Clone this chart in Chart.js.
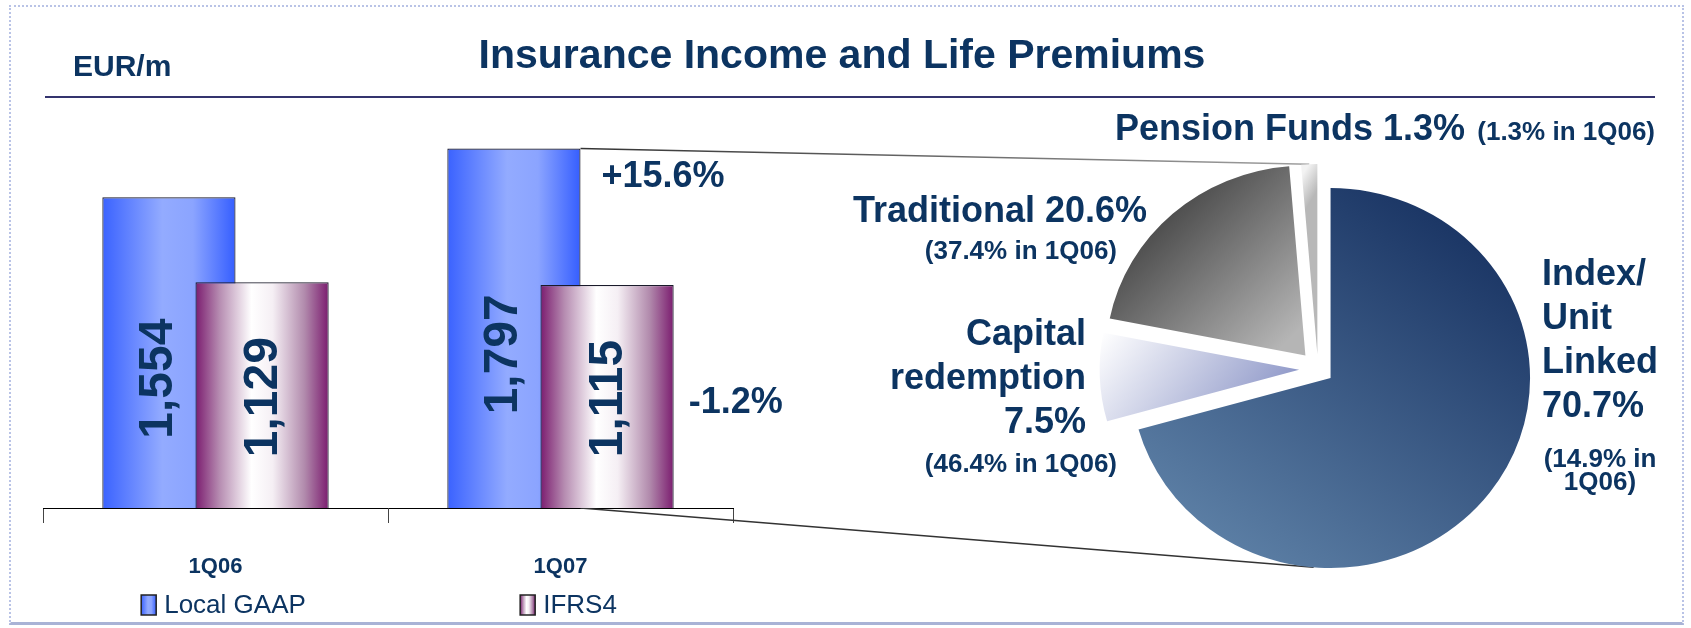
<!DOCTYPE html>
<html>
<head>
<meta charset="utf-8">
<title>Insurance Income and Life Premiums</title>
<script src="https://cdn.jsdelivr.net/npm/chart.js"></script>
<style>
  html, body { margin: 0; padding: 0; background: #fff; }
  #slide { position: relative; width: 1691px; height: 628px; overflow: hidden; }
  #slide .frame {
    position: absolute; left: 9px; top: 5px; width: 1671px; height: 615px;
    border: 2px dotted #b9c3e6; border-bottom: 3px solid #a9b3d6;
  }
  #slide canvas { position: absolute; left: 0; top: 0; }
</style>
</head>
<body>
<div id="slide">
  <div class="frame"></div>
  <canvas id="barChart" width="1691" height="628"></canvas>
  <canvas id="pieChart" width="1691" height="628"></canvas>
</div>
<script>
// Data
const quarters = ['1Q06', '1Q07'];
const seriesNames = ['Local GAAP', 'IFRS4'];
const localGaap = [1554, 1797];
const ifrs4 = [1129, 1115];

const lineNames = ['Index/Unit Linked', 'Capital redemption', 'Traditional', 'Pension Funds'];
const lineShares = [70.7, 7.5, 20.6, 1.3];       // 1Q07
const lineSharesPrev = [14.9, 46.4, 37.4, 1.3];  // 1Q06

// Styles
const FONT = "'Liberation Sans', Arial, sans-serif";
const NAVY = '#0c3461';
const PIE_RADIUS = 190;
const PIE_STRETCH = 1.05;   // pie is a little wider than tall

// horizontal "cylinder" shading of the bars
const barStops = [
  [[0, '#3a62ff'], [0.45, '#93abff'], [0.68, '#8ba4ff'], [1, '#355eff']],
  [[0, '#7b1c6f'], [0.18, '#b68cb1'], [0.42, '#ffffff'], [0.58, '#f5eff4'], [0.82, '#b18aac'], [1, '#7b1c6f']]
];

// slice gradients, coordinates in radius units from the pie centre
const sliceFills = [
  { from: [0.65, -0.75], to: [-0.55, 0.9], stops: [[0, '#1c3766'], [1, '#5c7fa5']] },
  { from: [-1, -0.3], to: [-0.2, 0.3], stops: [[0, '#ffffff'], [1, '#8690c4']] },
  { from: [-0.8, -0.8], to: [-0.15, -0.15], stops: [[0, '#4b4b4b'], [1, '#b5b5b5']] },
  { from: [-0.09, -1], to: [0, -0.95], stops: [[0, '#f3f3f3'], [1, '#b8b8b8']] }
];
const sliceExplode = [15, 18, 18, 15];

// where the pie labels go
const pieLabelPos = [
  { x: 1542, y: 285, align: 'left', breakName: true, shareOwnLine: true, prev: { x: 1600, y: 467, align: 'center', wrap: true } },
  { x: 1086, y: 345, align: 'right', breakName: true, shareOwnLine: true, prev: { x: 1117, y: 472, align: 'right' } },
  { x: 1147, y: 222, align: 'right', prev: { x: 1117, y: 259, align: 'right' } },
  { x: 1465, y: 140, align: 'right', prev: { x: 1655, y: 140, align: 'right' } }
];

function pct(v) { return v.toFixed(1) + '%'; }
function stretchX(x, cx) { return cx + (x - cx) * PIE_STRETCH; }

function sliceFill(c) {
  const area = c.chart.chartArea;
  const f = sliceFills[c.dataIndex];
  if (!area) return f.stops[0][1];
  const cx = (area.left + area.right) / 2;
  const cy = (area.top + area.bottom) / 2;
  const g = c.chart.ctx.createLinearGradient(
    cx + f.from[0] * PIE_RADIUS, cy + f.from[1] * PIE_RADIUS,
    cx + f.to[0] * PIE_RADIUS, cy + f.to[1] * PIE_RADIUS);
  f.stops.forEach(([o, col]) => g.addColorStop(o, col));
  return g;
}

// ---------- Pie ----------
const pieExplode = {
  id: 'pieExplode',
  afterDatasetsUpdate(chart) {
    chart.getDatasetMeta(0).data.forEach((arc, i) => {
      const mid = (arc.startAngle + arc.endAngle) / 2;
      arc.x += Math.cos(mid) * sliceExplode[i];
      arc.y += Math.sin(mid) * sliceExplode[i];
    });
  }
};

const pieStretch = {
  id: 'pieStretch',
  beforeDatasetsDraw(chart) {
    const a = chart.chartArea;
    const cx = (a.left + a.right) / 2;
    chart.ctx.save();
    chart.ctx.translate(cx, 0);
    chart.ctx.scale(PIE_STRETCH, 1);
    chart.ctx.translate(-cx, 0);
  },
  afterDatasetsDraw(chart) {
    chart.ctx.restore();
  }
};

const pieLabels = {
  id: 'pieLabels',
  afterDraw(chart) {
    const ctx = chart.ctx;
    ctx.save();
    ctx.fillStyle = NAVY;
    ctx.textBaseline = 'alphabetic';
    lineNames.forEach((name, i) => {
      const p = pieLabelPos[i];
      let lines;
      if (p.shareOwnLine) {
        const nameLines = p.breakName ? name.split(/(?<=\/)|\s+/) : [name];
        lines = [...nameLines, pct(lineShares[i])];
      } else {
        lines = [name + ' ' + pct(lineShares[i])];
      }
      ctx.font = 'bold 36px ' + FONT;
      ctx.textAlign = p.align;
      lines.forEach((t, k) => ctx.fillText(t, p.x, p.y + k * 44));

      const prevText = '(' + pct(lineSharesPrev[i]) + ' in ' + quarters[0] + ')';
      let prevLines = [prevText];
      if (p.prev.wrap) {
        const cut = prevText.lastIndexOf(' ');
        prevLines = [prevText.slice(0, cut), prevText.slice(cut + 1)];
      }
      ctx.font = 'bold 26px ' + FONT;
      ctx.textAlign = p.prev.align;
      prevLines.forEach((t, k) => ctx.fillText(t, p.prev.x, p.prev.y + k * 23));
    });
    ctx.restore();
  }
};

const pieChart = new Chart(document.getElementById('pieChart'), {
  type: 'pie',
  data: {
    labels: lineNames,
    datasets: [{
      data: lineShares,
      radius: PIE_RADIUS,
      backgroundColor: sliceFill,
      borderWidth: 0
    }]
  },
  options: {
    responsive: false,
    animation: false,
    events: [],
    layout: { padding: { left: 1018, right: 73, top: 119, bottom: 9 } },
    plugins: {
      legend: { display: false },
      tooltip: { enabled: false }
    }
  },
  plugins: [pieExplode, pieStretch, pieLabels]
});

// ---------- Bars ----------
function barGradient(ctx, bar, stops) {
  const g = ctx.createLinearGradient(bar.x - bar.width / 2, 0, bar.x + bar.width / 2, 0);
  stops.forEach(([o, col]) => g.addColorStop(o, col));
  return g;
}

// lines from the 1Q07 bar out to the pie
function drawConnectors(chart) {
  const ctx = chart.ctx;
  const bar = chart.getDatasetMeta(0).data[1];
  const area = pieChart.chartArea;
  const cx = (area.left + area.right) / 2;
  const arcs = pieChart.getDatasetMeta(0).data;
  const px = bar.x + bar.width / 2;

  const pen = arcs[arcs.length - 1];
  const pm = (pen.startAngle + pen.endAngle) / 2;
  const tx = stretchX(pen.x + Math.cos(pm) * pen.outerRadius, cx);
  const ty = pen.y + Math.sin(pm) * pen.outerRadius;

  // lower tangent to the big slice (worked out before the stretch)
  const big = arcs[0];
  const qx = cx + (px - cx) / PIE_STRETCH;
  const dx = qx - big.x, dy = bar.base - big.y;
  const ang = Math.atan2(dy, dx) - Math.acos(big.outerRadius / Math.hypot(dx, dy));
  const bx = stretchX(big.x + Math.cos(ang) * big.outerRadius, cx);
  const by = big.y + Math.sin(ang) * big.outerRadius;

  ctx.save();
  ctx.lineWidth = 1.5;
  const g = ctx.createLinearGradient(px, 0, tx, 0);
  g.addColorStop(0, '#333333');
  g.addColorStop(1, '#a0a0a0');
  ctx.strokeStyle = g;
  ctx.beginPath();
  ctx.moveTo(px, bar.y);
  ctx.lineTo(tx, ty);
  ctx.stroke();
  ctx.strokeStyle = '#333333';
  ctx.beginPath();
  ctx.moveTo(px, bar.base);
  ctx.lineTo(bx, by);
  ctx.stroke();
  ctx.restore();
}

const barPaint = {
  id: 'barPaint',
  beforeDatasetsDraw(chart) {
    const ctx = chart.ctx;
    drawConnectors(chart);
    // IFRS4 is painted over Local GAAP
    chart.data.datasets.forEach((ds, i) => {
      const meta = chart.getDatasetMeta(i);
      meta.data.forEach(bar => {
        bar.options = Object.assign({}, bar.options, { backgroundColor: barGradient(ctx, bar, barStops[i]) });
      });
      meta.controller.draw();
    });
    return false;
  }
};

const barText = {
  id: 'barText',
  afterDraw(chart) {
    const ctx = chart.ctx;
    const x = chart.scales.x;
    ctx.save();
    ctx.fillStyle = NAVY;

    // header
    ctx.font = 'bold 41px ' + FONT;
    ctx.textAlign = 'center';
    ctx.textBaseline = 'alphabetic';
    ctx.fillText('Insurance Income and Life Premiums', 842, 68);
    ctx.font = 'bold 30px ' + FONT;
    ctx.textAlign = 'left';
    ctx.fillText('EUR/m', 73, 76);
    ctx.strokeStyle = '#34346e';
    ctx.lineWidth = 2;
    ctx.beginPath();
    ctx.moveTo(45, 97);
    ctx.lineTo(1655, 97);
    ctx.stroke();

    // values written up the bars
    ctx.font = 'bold 48px ' + FONT;
    ctx.textAlign = 'center';
    ctx.textBaseline = 'middle';
    chart.data.datasets.forEach((ds, i) => {
      chart.getDatasetMeta(i).data.forEach((bar, j) => {
        const cxText = i === 0 ? bar.x - 10 : bar.x + 2;
        const cyText = (bar.y + bar.base) / 2 + (i === 0 ? 26 : 2);
        ctx.save();
        ctx.translate(cxText, cyText);
        ctx.rotate(-Math.PI / 2);
        ctx.fillText(ds.data[j].toLocaleString('en-US'), 0, 0);
        ctx.restore();
      });
    });

    // year on year change
    ctx.font = 'bold 36px ' + FONT;
    ctx.textAlign = 'left';
    ctx.textBaseline = 'alphabetic';
    const growth = [localGaap, ifrs4].map(s => (s[1] / s[0] - 1) * 100);
    const lg = chart.getDatasetMeta(0).data[1];
    const ifr = chart.getDatasetMeta(1).data[1];
    const fmt = v => (v > 0 ? '+' : '') + pct(v);
    ctx.fillText(fmt(growth[0]), lg.x + lg.width / 2 + 21, lg.y + 38);
    ctx.fillText(fmt(growth[1]), ifr.x + ifr.width / 2 + 15, ifr.y + 128);

    // legend, one item under each quarter
    ctx.font = '26px ' + FONT;
    ctx.textBaseline = 'middle';
    seriesNames.forEach((name, i) => {
      const tw = ctx.measureText(name).width;
      const w = 15 + 8 + tw;
      const left = x.getPixelForValue(i) - w / 2 + 8;
      const box = { x: left + 7.5, width: 15 };
      ctx.fillStyle = barGradient(ctx, box, barStops[i]);
      ctx.fillRect(left, 595, 15, 20);
      ctx.strokeStyle = '#222';
      ctx.lineWidth = 1.5;
      ctx.strokeRect(left, 595, 15, 20);
      ctx.fillStyle = NAVY;
      ctx.fillText(name, left + 23, 606);
    });
    ctx.restore();
  }
};

const barChart = new Chart(document.getElementById('barChart'), {
  type: 'bar',
  data: {
    labels: quarters,
    datasets: [
      { label: seriesNames[0], data: localGaap, borderColor: '#1a1a2a', borderWidth: 1.2 },
      { label: seriesNames[1], data: ifrs4, borderColor: '#1a1a2a', borderWidth: 1.2 }
    ]
  },
  options: {
    responsive: false,
    animation: false,
    events: [],
    categoryPercentage: 0.54,
    barPercentage: 1.43,   // bars are wider than their slot, so they overlap
    layout: { padding: { left: 43, right: 958, top: 108, bottom: 0 } },
    plugins: {
      legend: { display: false },
      tooltip: { enabled: false }
    },
    scales: {
      x: {
        grid: { offset: true, drawOnChartArea: false, drawTicks: true, tickLength: 15, color: '#444', lineWidth: 1 },
        border: { display: true, color: '#000', width: 1 },
        ticks: { padding: 31, color: NAVY, font: { family: FONT, size: 22, weight: 'bold' } },
        afterFit(scale) { scale.height = 120; }
      },
      y: { display: false, min: 0, max: 2000 }
    }
  },
  plugins: [barPaint, barText]
});
</script>
</body>
</html>
